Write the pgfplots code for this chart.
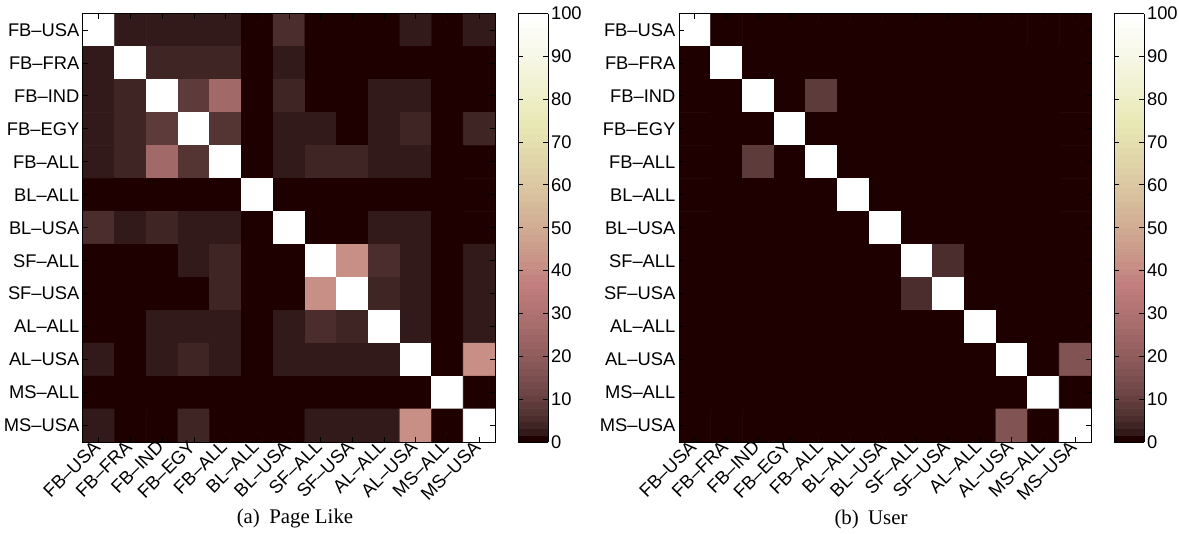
\documentclass[border=0pt]{standalone}
\usepackage{pgfplots}
\pgfplotsset{compat=1.18}
\usepackage{fontspec}
\setmainfont{Liberation Sans}
\newfontfamily\capfont{Liberation Serif}

\pgfplotsset{
 colormap={pinkc}{
  rgb(0cm)=(0.1179,0,0)
  rgb(1cm)=(0.1959,0.1029,0.1029)
  rgb(2cm)=(0.2507,0.1455,0.1455)
  rgb(3cm)=(0.2955,0.1782,0.1782)
  rgb(4cm)=(0.3343,0.2057,0.2057)
  rgb(5cm)=(0.3691,0.2300,0.2300)
  rgb(6cm)=(0.4009,0.2520,0.2520)
  rgb(8cm)=(0.4579,0.2910,0.2910)
  rgb(10cm)=(0.5085,0.3253,0.3253)
  rgb(12cm)=(0.5546,0.3563,0.3563)
  rgb(16cm)=(0.6367,0.4115,0.4115)
  rgb(20cm)=(0.7094,0.4600,0.4600)
  rgb(23cm)=(0.7594,0.4933,0.4933)
  rgb(24cm)=(0.7664,0.5176,0.5040)
  rgb(28cm)=(0.7935,0.6048,0.5443)
  rgb(32cm)=(0.8197,0.6809,0.5819)
  rgb(36cm)=(0.8452,0.7493,0.6172)
  rgb(40cm)=(0.8698,0.8120,0.6506)
  rgb(44cm)=(0.8938,0.8702,0.6824)
  rgb(47cm)=(0.9114,0.9114,0.7052)
  rgb(48cm)=(0.9172,0.9172,0.7272)
  rgb(52cm)=(0.9400,0.9400,0.8090)
  rgb(56cm)=(0.9623,0.9623,0.8832)
  rgb(60cm)=(0.9840,0.9840,0.9517)
  rgb(63cm)=(1,1,1)
 },
 colormap={pinkd}{samples of colormap=(64 of pinkc)},
}

\pgfplotsset{hm/.style={
  scale only axis, width=247.2pt, height=257.1pt,
  xmin=-0.5, xmax=12.5, ymin=-0.5, ymax=12.5, y dir=reverse,
  enlargelimits=false,
  xtick={0,...,12}, ytick={0,...,12},
  xticklabels={FB–USA,FB–FRA,FB–IND,FB–EGY,FB–ALL,BL–ALL,BL–USA,SF–ALL,SF–USA,AL–ALL,AL–USA,MS–ALL,MS–USA},
  yticklabels={FB–USA,FB–FRA,FB–IND,FB–EGY,FB–ALL,BL–ALL,BL–USA,SF–ALL,SF–USA,AL–ALL,AL–USA,MS–ALL,MS–USA},
  xticklabel style={rotate=45, anchor=east, font=\fontsize{11}{13}\selectfont, inner sep=1.5pt},
  yticklabel style={font=\fontsize{11}{13}\selectfont, inner sep=2pt},
  tick align=inside, major tick length=3pt,
  tick style={black, line width=0.5pt},
  axis line style={line width=0.6pt},
  axis on top,
  colormap name=pinkd, colormap access=piecewise constant,
  point meta min=0, point meta max=100,
  colorbar,
  colorbar style={
    at={(parent axis.north east)}, anchor=north west, xshift=5.4pt,
    scale only axis, width=18pt, height=257.1pt,
    ytick={0,10,...,100},
    ytick pos=both, yticklabel pos=right,
    yticklabel style={font=\fontsize{11}{13}\selectfont, /pgf/number format/assume math mode=true, inner sep=1.5pt},
    tick align=inside, major tick length=3pt,
    tick style={black, line width=0.5pt},
    axis line style={line width=0.6pt},
  },
}}

\begin{document}
\begin{tikzpicture}
\useasboundingbox (0,0) rectangle (707.4pt,319.8pt);

\begin{axis}[hm, at={(49.8pt,54.6pt)}, anchor=south west]
\addplot[matrix plot*, point meta=explicit, mesh/cols=13] coordinates {
(0,0)[100] (1,0)[2.4] (2,0)[2.4] (3,0)[2.4] (4,0)[2.4] (5,0)[0] (6,0)[5.6] (7,0)[0] (8,0)[0] (9,0)[0] (10,0)[2.4] (11,0)[0] (12,0)[2.4]
(0,1)[2.4] (1,1)[100] (2,1)[4] (3,1)[4] (4,1)[4] (5,1)[0] (6,1)[2.4] (7,1)[0] (8,1)[0] (9,1)[0] (10,1)[0] (11,1)[0] (12,1)[0]
(0,2)[2.4] (1,2)[4] (2,2)[100] (3,2)[8.7] (4,2)[26.2] (5,2)[0] (6,2)[4] (7,2)[0] (8,2)[0] (9,2)[2.4] (10,2)[2.4] (11,2)[0] (12,2)[0]
(0,3)[2.4] (1,3)[4] (2,3)[8.7] (3,3)[100] (4,3)[7.1] (5,3)[0] (6,3)[2.4] (7,3)[2.4] (8,3)[0] (9,3)[2.4] (10,3)[4] (11,3)[0] (12,3)[4]
(0,4)[2.4] (1,4)[4] (2,4)[26.2] (3,4)[7.1] (4,4)[100] (5,4)[0] (6,4)[2.4] (7,4)[4] (8,4)[4] (9,4)[2.4] (10,4)[2.4] (11,4)[0] (12,4)[0]
(0,5)[0] (1,5)[0] (2,5)[0] (3,5)[0] (4,5)[0] (5,5)[100] (6,5)[0] (7,5)[0] (8,5)[0] (9,5)[0] (10,5)[0] (11,5)[0] (12,5)[0]
(0,6)[5.6] (1,6)[2.4] (2,6)[4] (3,6)[2.4] (4,6)[2.4] (5,6)[0] (6,6)[100] (7,6)[0] (8,6)[0] (9,6)[2.4] (10,6)[2.4] (11,6)[0] (12,6)[0]
(0,7)[0] (1,7)[0] (2,7)[0] (3,7)[2.4] (4,7)[4] (5,7)[0] (6,7)[0] (7,7)[100] (8,7)[42] (9,7)[5.6] (10,7)[2.4] (11,7)[0] (12,7)[2.4]
(0,8)[0] (1,8)[0] (2,8)[0] (3,8)[0] (4,8)[4] (5,8)[0] (6,8)[0] (7,8)[42] (8,8)[100] (9,8)[4] (10,8)[2.4] (11,8)[0] (12,8)[2.4]
(0,9)[0] (1,9)[0] (2,9)[2.4] (3,9)[2.4] (4,9)[2.4] (5,9)[0] (6,9)[2.4] (7,9)[5.6] (8,9)[4] (9,9)[100] (10,9)[2.4] (11,9)[0] (12,9)[2.4]
(0,10)[2.4] (1,10)[0] (2,10)[2.4] (3,10)[4] (4,10)[2.4] (5,10)[0] (6,10)[2.4] (7,10)[2.4] (8,10)[2.4] (9,10)[2.4] (10,10)[100] (11,10)[0] (12,10)[42]
(0,11)[0] (1,11)[0] (2,11)[0] (3,11)[0] (4,11)[0] (5,11)[0] (6,11)[0] (7,11)[0] (8,11)[0] (9,11)[0] (10,11)[0] (11,11)[100] (12,11)[0]
(0,12)[2.4] (1,12)[0] (2,12)[0] (3,12)[4] (4,12)[0] (5,12)[0] (6,12)[0] (7,12)[2.4] (8,12)[2.4] (9,12)[2.4] (10,12)[42] (11,12)[0] (12,12)[100]
};
\end{axis}

\begin{axis}[hm, at={(407.4pt,54.6pt)}, anchor=south west]
\addplot[matrix plot*, point meta=explicit, mesh/cols=13] coordinates {
(0,0)[100] (1,0)[0] (2,0)[0] (3,0)[0] (4,0)[0] (5,0)[0] (6,0)[0] (7,0)[0] (8,0)[0] (9,0)[0] (10,0)[0] (11,0)[0] (12,0)[0]
(0,1)[0] (1,1)[100] (2,1)[0] (3,1)[0] (4,1)[0] (5,1)[0] (6,1)[0] (7,1)[0] (8,1)[0] (9,1)[0] (10,1)[0] (11,1)[0] (12,1)[0]
(0,2)[0] (1,2)[0] (2,2)[100] (3,2)[0] (4,2)[8.7] (5,2)[0] (6,2)[0] (7,2)[0] (8,2)[0] (9,2)[0] (10,2)[0] (11,2)[0] (12,2)[0]
(0,3)[0] (1,3)[0] (2,3)[0] (3,3)[100] (4,3)[0] (5,3)[0] (6,3)[0] (7,3)[0] (8,3)[0] (9,3)[0] (10,3)[0] (11,3)[0] (12,3)[0]
(0,4)[0] (1,4)[0] (2,4)[8.7] (3,4)[0] (4,4)[100] (5,4)[0] (6,4)[0] (7,4)[0] (8,4)[0] (9,4)[0] (10,4)[0] (11,4)[0] (12,4)[0]
(0,5)[0] (1,5)[0] (2,5)[0] (3,5)[0] (4,5)[0] (5,5)[100] (6,5)[0] (7,5)[0] (8,5)[0] (9,5)[0] (10,5)[0] (11,5)[0] (12,5)[0]
(0,6)[0] (1,6)[0] (2,6)[0] (3,6)[0] (4,6)[0] (5,6)[0] (6,6)[100] (7,6)[0] (8,6)[0] (9,6)[0] (10,6)[0] (11,6)[0] (12,6)[0]
(0,7)[0] (1,7)[0] (2,7)[0] (3,7)[0] (4,7)[0] (5,7)[0] (6,7)[0] (7,7)[100] (8,7)[5.6] (9,7)[0] (10,7)[0] (11,7)[0] (12,7)[0]
(0,8)[0] (1,8)[0] (2,8)[0] (3,8)[0] (4,8)[0] (5,8)[0] (6,8)[0] (7,8)[5.6] (8,8)[100] (9,8)[0] (10,8)[0] (11,8)[0] (12,8)[0]
(0,9)[0] (1,9)[0] (2,9)[0] (3,9)[0] (4,9)[0] (5,9)[0] (6,9)[0] (7,9)[0] (8,9)[0] (9,9)[100] (10,9)[0] (11,9)[0] (12,9)[0]
(0,10)[0] (1,10)[0] (2,10)[0] (3,10)[0] (4,10)[0] (5,10)[0] (6,10)[0] (7,10)[0] (8,10)[0] (9,10)[0] (10,10)[100] (11,10)[0] (12,10)[16.7]
(0,11)[0] (1,11)[0] (2,11)[0] (3,11)[0] (4,11)[0] (5,11)[0] (6,11)[0] (7,11)[0] (8,11)[0] (9,11)[0] (10,11)[0] (11,11)[100] (12,11)[0]
(0,12)[0] (1,12)[0] (2,12)[0] (3,12)[0] (4,12)[0] (5,12)[0] (6,12)[0] (7,12)[0] (8,12)[0] (9,12)[0] (10,12)[16.7] (11,12)[0] (12,12)[100]
};
\end{axis}

\node[font=\capfont\fontsize{12.5}{14}\selectfont] at (177pt,8.4pt) {(a)\hspace{0.45em}Page Like};
\node[font=\capfont\fontsize{12.5}{14}\selectfont] at (522.6pt,8.4pt) {(b)\hspace{0.45em}User};
\end{tikzpicture}
\end{document}
